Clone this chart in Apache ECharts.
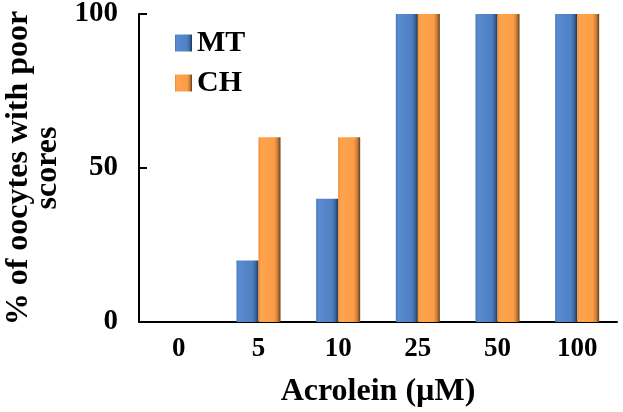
<!DOCTYPE html>
<html>
<head>
<meta charset="utf-8">
<script src="https://cdn.jsdelivr.net/npm/echarts@6/dist/echarts.min.js"></script>
<style>html,body{margin:0;padding:0;background:#fff}#c{width:623px;height:412px}</style>
</head>
<body>
<div id="c"></div>
<script>
const categories = ['0', '5', '10', '25', '50', '100'];
const mtValues = [0, 20, 40, 100, 100, 100];
const chValues = [0, 60, 60, 100, 100, 100];
const yTicks = [0, 50, 100];

const FONT = "'Liberation Serif', 'Times New Roman', serif";
function grad(stops) {
  return new echarts.graphic.LinearGradient(0, 0, 1, 0, stops.map((c) => ({offset: c[0], color: c[1]})));
}
const blue = grad([[0, '#4576b8'], [0.1, '#5a8ad0'], [0.72, '#4f80c3'], [0.88, '#3a6399'], [1, '#1f3352']]);
const orange = grad([[0, '#e88a38'], [0.1, '#ffa44c'], [0.72, '#fb9c47'], [0.88, '#c67a36'], [1, '#5e3a1c']]);

const chart = echarts.init(document.getElementById('c'));
chart.setOption({
  animation: false,
  backgroundColor: '#fff',
  grid: {left: 139, right: 6, top: 14, bottom: 90, containLabel: false, outerBoundsMode: 'none'},
  legend: {
    orient: 'vertical', left: 170, top: 23, itemWidth: 17, itemHeight: 17, itemGap: 10,
    icon: 'rect',
    textStyle: {fontFamily: FONT, fontWeight: 'bold', fontSize: 30, color: '#000'},
    data: ['MT', 'CH']
  },
  xAxis: {
    type: 'category', data: categories, boundaryGap: true,
    name: 'Acrolein (µM)', nameLocation: 'middle', nameGap: 54,
    nameTextStyle: {fontFamily: FONT, fontWeight: 'bold', fontSize: 32, color: '#000'},
    axisLine: {lineStyle: {color: '#000', width: 2}},
    axisTick: {inside: true, length: 7, lineStyle: {color: '#000', width: 2}},
    axisLabel: {fontFamily: FONT, fontWeight: 'bold', fontSize: 27, color: '#000', margin: 14}
  },
  yAxis: {
    type: 'value', min: yTicks[0], max: yTicks[yTicks.length - 1], interval: 50,
    name: '% of oocytes with poor\nscores', nameLocation: 'middle', nameGap: 77, nameRotate: 90,
    nameTextStyle: {fontFamily: FONT, fontWeight: 'bold', fontSize: 32, color: '#000', lineHeight: 29},
    splitLine: {show: false},
    axisLine: {show: true, lineStyle: {color: '#000', width: 2}},
    axisTick: {show: true, inside: true, length: 8, lineStyle: {color: '#000', width: 2}},
    axisLabel: {fontFamily: FONT, fontWeight: 'bold', fontSize: 29, color: '#000', margin: 21}
  },
  series: [
    {name: 'MT', type: 'bar', data: mtValues, barWidth: 22, barGap: '0%', itemStyle: {color: blue}},
    {name: 'CH', type: 'bar', data: chValues, barWidth: 22, barGap: '0%', itemStyle: {color: orange}}
  ]
});
</script>
</body>
</html>
